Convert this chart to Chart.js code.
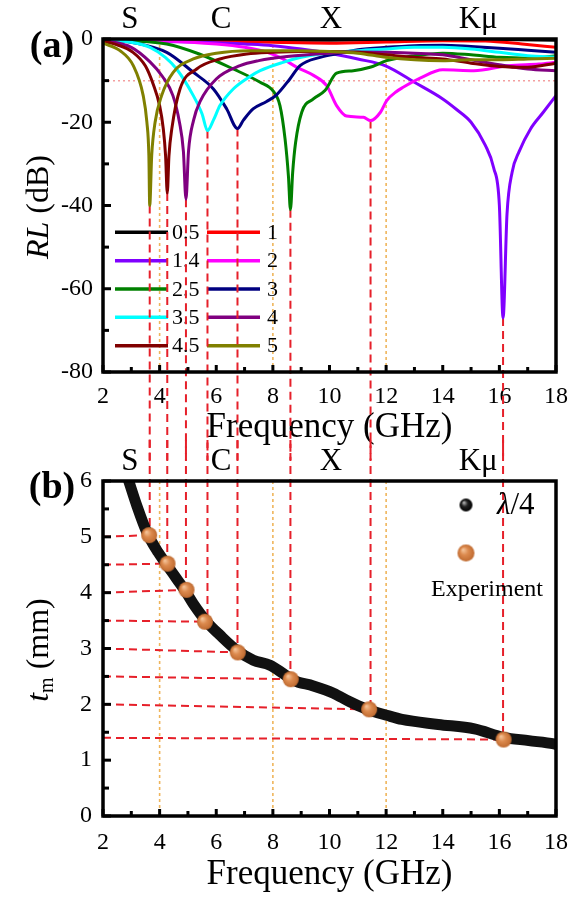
<!DOCTYPE html>
<html><head><meta charset="utf-8">
<script src="https://cdn.jsdelivr.net/npm/chart.js@4.4.0/dist/chart.umd.min.js"></script>
<style>
html,body{margin:0;padding:0;background:#fff;width:573px;height:899px;overflow:hidden;}
canvas{position:absolute;left:0;}
#ca{top:0;}
#cb{top:440px;}
</style></head><body>
<canvas id="ca" width="573" height="460"></canvas>
<canvas id="cb" width="573" height="459"></canvas>
<script>
// ---------------- DATA ----------------
// thickness (mm) of each RL curve
const thicknessLabels = ['0.5','1','1.4','2','2.5','3','3.5','4','4.5','5'];

// RL (dB) curves, frequency (GHz) / RL pairs
const f_05 = [2, 4, 6, 8, 10, 12, 14, 16, 18];
const rl_05 = [-0.1, -0.2, -0.3, -0.3, -0.3, -0.2, 0, -0.1, -0.3];
const f_1 = [2, 4, 6, 8, 10, 12, 14, 15.5, 16.8, 18];
const rl_1 = [-0.2, -0.3, -0.5, -0.8, -1.0, -0.7, -0.4, -0.5, -1.2, -2.0];
const f_14 = [2, 4, 6, 7, 8, 9, 10, 11, 12, 13, 14, 14.5, 15, 15.5, 15.8, 16.0, 16.13, 16.27, 16.45, 16.7, 17.1, 17.55, 18];
const rl_14 = [-0.3, -0.6, -0.9, -1.2, -1.6, -2.4, -3.4, -4.8, -6.5, -10.4, -14.4, -17, -20, -25.5, -31, -40, -67, -42, -32, -27, -21.6, -17.6, -13.6];
const f_2 = [2, 4, 6, 7, 7.8, 8.3, 8.85, 9.45, 9.9, 10.25, 10.6, 11.2, 11.45, 11.8, 12.02, 12.37, 12.6, 13.2, 14.0, 15.1, 16.3, 17.4, 18];
const rl_2 = [-0.1, -0.4, -1.2, -2.0, -3.2, -4.6, -6.8, -8.8, -11.2, -16, -18.5, -18.8, -19.6, -17.6, -14.8, -12.6, -11.6, -9.4, -7.4, -7.6, -6.4, -6.0, -5.6];
const f_25 = [2, 3, 4.25, 5.4, 6.6, 7.55, 8.02, 8.25, 8.43, 8.55, 8.62, 8.7, 8.8, 9.02, 9.43, 9.84, 10.25, 10.84, 11.43, 12.02, 13, 14, 15, 16, 17, 18];
const rl_25 = [-0.1, -0.4, -1.2, -3.6, -7.2, -10.4, -12.6, -16, -24, -33, -41, -32, -25, -17.6, -14.4, -12.4, -8.2, -7.6, -6.8, -5.2, -4.0, -3.4, -3.8, -4.4, -4.6, -4.0];
const f_3 = [2, 3, 4.25, 5.19, 5.9, 6.37, 6.75, 6.96, 7.3, 7.78, 8.13, 8.6, 8.96, 9.67, 10.37, 11, 12, 13, 14, 15, 16, 17, 18];
const rl_3 = [0, -0.8, -3.2, -8, -12, -16.8, -21.5, -19.5, -16.8, -15, -13.4, -9.6, -6.4, -4.4, -3.4, -2.6, -2.0, -1.6, -1.5, -1.8, -2.2, -2.7, -3.2];
const f_35 = [2, 3, 3.66, 4.2, 4.6, 5.19, 5.5, 5.69, 5.9, 6.13, 6.6, 7.19, 7.55, 8.36, 9.0, 9.67, 11, 12, 13, 14, 15, 16, 17, 18];
const rl_35 = [-0.2, -0.8, -2, -4.4, -7.2, -13.6, -18, -22, -19.5, -16, -12, -9, -7.6, -5.6, -4.4, -3.6, -2.8, -2.4, -2.0, -2.0, -2.4, -3.2, -4.0, -4.4];
const f_4 = [2, 3, 3.66, 4.1, 4.47, 4.7, 4.84, 4.93, 5.02, 5.2, 5.43, 6.0, 6.84, 7.5, 8.5, 10, 11, 12, 13, 14, 15, 16, 17, 18];
const rl_4 = [-0.3, -2.0, -5.5, -9, -13.6, -20, -27, -38.5, -27, -19.5, -15, -9.6, -6.4, -5.2, -4.2, -3.4, -3.1, -3.2, -3.4, -3.8, -5.0, -6.2, -7.2, -7.6];
const f_45 = [2, 2.5, 3.06, 3.5, 3.78, 4.0, 4.13, 4.21, 4.27, 4.33, 4.43, 4.72, 5.31, 6.13, 7.08, 8, 9, 10, 11, 12, 13, 14, 15, 16, 17, 18];
const rl_45 = [-0.5, -1.4, -3.2, -6.5, -11, -16, -21.6, -28, -37, -28, -21.6, -12, -7.2, -4.8, -3.6, -3.2, -3.0, -3.0, -3.2, -3.8, -4.4, -4.8, -5.8, -6.6, -6.8, -5.8];
const f_5 = [2, 2.6, 3.07, 3.42, 3.55, 3.62, 3.65, 3.72, 3.84, 4.07, 4.48, 5.19, 6.0, 7.2, 8, 9, 10, 11, 12, 13, 14, 15, 16, 17, 18];
const rl_5 = [-1.0, -2.8, -6.4, -13.6, -20, -28, -40, -28, -20, -13.6, -8, -4.8, -3.4, -2.8, -2.8, -2.8, -3.0, -3.4, -4.4, -5.0, -5.2, -5.0, -5.0, -4.8, -4.6];

// quarter-wavelength thickness curve (b)
const lambdaFreq = [2.89, 3.2, 3.55, 3.95, 4.25, 4.6, 4.92, 5.19, 5.66, 6.13, 6.72, 7.31, 7.9, 8.37, 8.72, 9.43, 10.14, 10.7, 11.28, 12.05, 12.56, 13.84, 15.12, 16.15, 17.04, 17.93, 18];
const lambdaT = [6.03, 5.55, 5.08, 4.72, 4.5, 4.25, 4.02, 3.8, 3.48, 3.24, 2.97, 2.79, 2.70, 2.55, 2.43, 2.33, 2.2, 2.05, 1.92, 1.8, 1.73, 1.64, 1.56, 1.41, 1.35, 1.29, 1.28];

// experiment: matching thickness, dip frequency, dip RL, measured point
const expThick = [5, 4.5, 4, 3.5, 3, 2.5, 2, 1.4];
const expFreq = [3.65, 4.27, 4.93, 5.69, 6.75, 8.62, 11.45, 16.13];
const expRL = [-40, -37, -38.5, -22, -21.5, -41, -19.6, -67];
const expDotFreq = [3.63, 4.28, 4.95, 5.6, 6.76, 8.63, 11.4, 16.15];
const expDotT = [5.03, 4.52, 4.05, 3.48, 2.93, 2.45, 1.91, 1.37];

// bands
const bandNames = ['S', 'C', 'X', 'K\u03bc'];
const bandEdges = [4, 8, 12];
const rlRef = -10;

// ---------------- STYLE ----------------
const seriesF = [f_05, f_1, f_14, f_2, f_25, f_3, f_35, f_4, f_45, f_5];
const seriesRL = [rl_05, rl_1, rl_14, rl_2, rl_25, rl_3, rl_35, rl_4, rl_45, rl_5];
const seriesColors = ['#000000', '#ff0000', '#8000ff', '#ff00ff', '#008000', '#000080', '#00ffff', '#800080', '#800000', '#808000'];
const SERIF = '"Liberation Serif", "Times New Roman", serif';
const bandLabelAt = [2.95, 6.17, 10.05, 15.25];
const GUIDE = '#efb55c';

function makeSphere(r, hi, mid, lo) {
  const s = Math.ceil(r * 2 + 2);
  const c = document.createElement('canvas'); c.width = s; c.height = s;
  const g = c.getContext('2d');
  const cx = s / 2, cy = s / 2;
  const grad = g.createRadialGradient(cx - r * 0.35, cy - r * 0.4, r * 0.05, cx, cy, r);
  grad.addColorStop(0, hi); grad.addColorStop(0.45, mid); grad.addColorStop(1, lo);
  g.fillStyle = grad; g.beginPath(); g.arc(cx, cy, r, 0, Math.PI * 2); g.fill();
  return c;
}
const orangeDot = makeSphere(8, '#f5c49a', '#dc8a4e', '#bf6a30');
const orangeDotLeg = makeSphere(8.5, '#f5c49a', '#dc8a4e', '#bf6a30');
const blackDotLeg = makeSphere(6.5, '#bbbbbb', '#222222', '#000000');

function seg(ctx, x1, y1, x2, y2, color, w, dash) {
  ctx.save();
  ctx.strokeStyle = color; ctx.lineWidth = w; ctx.setLineDash(dash || []);
  ctx.beginPath(); ctx.moveTo(x1, y1); ctx.lineTo(x2, y2); ctx.stroke();
  ctx.restore();
}
function frameAndTicks(chart) {
  const {ctx, chartArea: a, scales: {x, y}} = chart;
  ctx.save();
  ctx.strokeStyle = '#000'; ctx.lineWidth = 3.5; ctx.lineCap = 'butt';
  ctx.strokeRect(a.left, a.top, a.right - a.left, a.bottom - a.top);
  ctx.lineWidth = 3;
  x.ticks.forEach(t => {
    const px = x.getPixelForValue(t.value);
    const len = t.label !== '' ? 7 : 5;
    seg(ctx, px, a.bottom, px, a.bottom - len, '#000', 3);
  });
  y.ticks.forEach(t => {
    const py = y.getPixelForValue(t.value);
    const len = t.label !== '' ? 8 : 6;
    seg(ctx, a.left, py, a.left + len, py, '#000', 3);
  });
  ctx.restore();
}
function bandLabels(chart, cy) {
  const {ctx, scales: {x}} = chart;
  ctx.save();
  ctx.fillStyle = '#000'; ctx.font = '31px ' + SERIF;
  ctx.textAlign = 'center'; ctx.textBaseline = 'middle';
  bandNames.forEach((n, i) => ctx.fillText(n, x.getPixelForValue(bandLabelAt[i]), cy));
  ctx.restore();
}
function panelLabel(chart, txt, cx, cy) {
  const ctx = chart.ctx;
  ctx.save();
  ctx.fillStyle = '#000'; ctx.font = 'bold 38px ' + SERIF;
  ctx.textAlign = 'center'; ctx.textBaseline = 'middle';
  ctx.fillText(txt, cx, cy);
  ctx.restore();
}
// parts: [text, font, baselineShift]
function rotatedTitle(ctx, parts, cx, cy) {
  ctx.save();
  ctx.translate(cx, cy); ctx.rotate(-Math.PI / 2);
  ctx.fillStyle = '#000'; ctx.textBaseline = 'middle'; ctx.textAlign = 'left';
  let total = 0;
  parts.forEach(p => { ctx.font = p[1]; total += ctx.measureText(p[0]).width; });
  let xx = -total / 2;
  parts.forEach(p => { ctx.font = p[1]; ctx.fillText(p[0], xx, p[2]); xx += ctx.measureText(p[0]).width; });
  ctx.restore();
}
function fitX(h) {
  return s => { s.height = h; s.paddingLeft = 0; s.paddingRight = 0; };
}
function fitY(s) { s.width = 103; s.paddingTop = 0; s.paddingBottom = 0; }

const tickFont = {family: SERIF, size: 24};

// ---------------- CHART (a) ----------------
const decorA = {
  id: 'decorA',
  beforeDatasetsDraw(chart) {
    const {ctx, chartArea: a, scales: {x, y}} = chart;
    bandEdges.forEach(v => {
      const px = x.getPixelForValue(v);
      seg(ctx, px, a.top, px, a.bottom, GUIDE, 1.6, [3, 3]);
    });
    const py = y.getPixelForValue(rlRef);
    seg(ctx, a.left, py, a.right, py, '#f4a0a0', 1.5, [2, 3]);
    // legend (2 columns)
    ctx.save();
    ctx.font = '22px ' + SERIF; ctx.fillStyle = '#000'; ctx.textBaseline = 'middle'; ctx.textAlign = 'left';
    const colOrder = [[0, 2, 4, 6, 8], [1, 3, 5, 7, 9]];
    const cols = [{x0: 115, x1: 168, tx: 172}, {x0: 207, x1: 260, tx: 267}];
    colOrder.forEach((idxs, c) => {
      idxs.forEach((si, r) => {
        const ry = 232.3 + r * 28.35;
        seg(ctx, cols[c].x0, ry, cols[c].x1, ry, seriesColors[si], 3.5);
        ctx.fillText(thicknessLabels[si], cols[c].tx, ry + 1);
      });
    });
    ctx.restore();
    expFreq.forEach((f, i) => {
      const px = x.getPixelForValue(f);
      seg(ctx, px, y.getPixelForValue(expRL[i]), px, chart.height, '#e6202a', 2, [8, 5]);
    });
  },
  afterDraw(chart) {
    frameAndTicks(chart);
    bandLabels(chart, 20);
    panelLabel(chart, '(a)', 52, 47);
    rotatedTitle(chart.ctx, [['RL', 'italic 32px ' + SERIF, 0], [' (dB)', '32px ' + SERIF, 0]], 40, 207);
  }
};

new Chart(document.getElementById('ca'), {
  type: 'line',
  data: {
    datasets: seriesF.map((fs, i) => ({
      label: thicknessLabels[i],
      data: fs.map((f, j) => ({x: f, y: seriesRL[i][j]})),
      borderColor: seriesColors[i],
      borderWidth: 3,
      pointRadius: 0,
      cubicInterpolationMode: 'monotone',
      order: 10 - i
    }))
  },
  options: {
    responsive: false, animation: false, events: [],
    layout: {padding: {left: 0, right: 17, top: 39, bottom: 0}},
    plugins: {legend: {display: false}, tooltip: {enabled: false}},
    scales: {
      x: {
        type: 'linear', min: 2, max: 18,
        grid: {display: false, drawTicks: false}, border: {display: false},
        ticks: {stepSize: 1, autoSkip: false, maxRotation: 0, padding: 10, color: '#000', font: tickFont,
          callback: v => (v % 2 === 0 ? String(v) : '')},
        title: {display: true, text: 'Frequency (GHz)', color: '#000',
          font: {family: SERIF, size: 35, lineHeight: 1}, padding: {top: 0, bottom: 15}},
        afterFit: fitX(460 - 372)
      },
      y: {
        type: 'linear', min: -80, max: 0,
        grid: {display: false, drawTicks: false}, border: {display: false},
        ticks: {stepSize: 10, autoSkip: false, padding: 10, color: '#000', font: tickFont,
          callback: v => (v % 20 === 0 ? String(v) : '')},
        afterFit: fitY
      }
    }
  },
  plugins: [decorA]
});

// ---------------- CHART (b) ----------------
const decorB = {
  id: 'decorB',
  beforeDatasetsDraw(chart) {
    const {chartArea: a, scales: {x, y}, ctx} = chart;
    bandEdges.forEach(v => {
      const px = x.getPixelForValue(v);
      seg(ctx, px, a.top, px, a.bottom, GUIDE, 1.6, [3, 3]);
    });
    expThick.forEach((t, i) => {
      seg(ctx, x.getPixelForValue(2), y.getPixelForValue(t), x.getPixelForValue(expDotFreq[i]), y.getPixelForValue(expDotT[i]), '#e6202a', 2, [8, 5]);
    });
    expFreq.forEach((f, i) => {
      const px = x.getPixelForValue(f);
      seg(ctx, px, 0, px, y.getPixelForValue(expDotT[i]), '#e6202a', 2, [8, 5]);
    });
  },
  afterDraw(chart) {
    const ctx = chart.ctx;
    frameAndTicks(chart);
    bandLabels(chart, 22);
    panelLabel(chart, '(b)', 52, 48);
    rotatedTitle(ctx, [['t', 'italic 32px ' + SERIF, 0], ['m', '20px ' + SERIF, 8], [' (mm)', '32px ' + SERIF, 0]], 40, 210);
    // legend
    ctx.save();
    ctx.drawImage(blackDotLeg, 466 - blackDotLeg.width / 2, 65 - blackDotLeg.height / 2);
    ctx.drawImage(orangeDotLeg, 466 - orangeDotLeg.width / 2, 113 - orangeDotLeg.height / 2);
    ctx.fillStyle = '#000'; ctx.textBaseline = 'middle'; ctx.textAlign = 'left';
    ctx.font = 'italic 31px ' + SERIF;
    ctx.fillText('\u03bb', 497, 66);
    const lw = ctx.measureText('\u03bb').width;
    ctx.font = '31px ' + SERIF;
    ctx.fillText('/4', 497 + lw, 66);
    ctx.font = '24px ' + SERIF; ctx.textAlign = 'center';
    ctx.fillText('Experiment', 487, 150);
    ctx.restore();
  }
};

new Chart(document.getElementById('cb'), {
  type: 'line',
  data: {
    datasets: [
      {
        label: 'Experiment',
        data: expDotFreq.map((f, i) => ({x: f, y: expDotT[i]})),
        showLine: false,
        pointStyle: orangeDot,
        pointRadius: 8,
        order: 0
      },
      {
        label: '\u03bb/4',
        data: lambdaFreq.map((f, i) => ({x: f, y: lambdaT[i]})),
        borderColor: '#111111',
        borderWidth: 11,
        borderCapStyle: 'round',
        pointRadius: 0,
        cubicInterpolationMode: 'monotone',
        order: 1
      }
    ]
  },
  options: {
    responsive: false, animation: false, events: [],
    layout: {padding: {left: 0, right: 17, top: 41, bottom: 0}},
    plugins: {legend: {display: false}, tooltip: {enabled: false}},
    scales: {
      x: {
        type: 'linear', min: 2, max: 18,
        grid: {display: false, drawTicks: false}, border: {display: false},
        ticks: {stepSize: 1, autoSkip: false, maxRotation: 0, padding: 12, color: '#000', font: tickFont,
          callback: v => (v % 2 === 0 ? String(v) : '')},
        title: {display: true, text: 'Frequency (GHz)', color: '#000',
          font: {family: SERIF, size: 35, lineHeight: 1}, padding: {top: 0, bottom: 7}},
        afterFit: fitX(459 - 376)
      },
      y: {
        type: 'linear', min: 0, max: 6,
        grid: {display: false, drawTicks: false}, border: {display: false},
        ticks: {stepSize: 0.5, autoSkip: false, padding: 11, color: '#000', font: tickFont,
          callback: v => (Number.isInteger(v) ? String(v) : '')},
        afterFit: fitY
      }
    }
  },
  plugins: [decorB]
});
</script>
</body></html>
